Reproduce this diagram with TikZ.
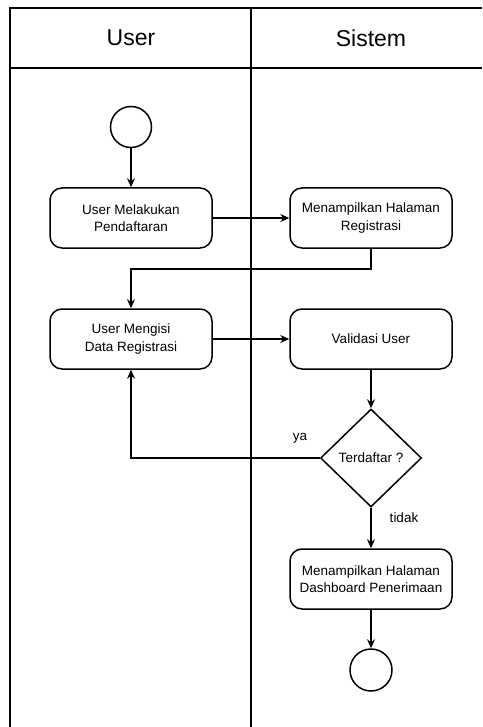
\documentclass[tikz,border=0pt]{standalone}
\usepackage{fontspec}
\setmainfont{Liberation Sans}
\usetikzlibrary{shapes.geometric,arrows.meta}
\begin{document}
\begin{tikzpicture}[x=1pt,y=-1pt,
  lane/.style={line width=1.8pt},
  act/.style={draw,line width=1.5pt,rounded corners=12pt,minimum width=162pt,minimum height=60pt,
    align=center,inner sep=2pt,font=\fontsize{13.5}{17.5}\selectfont},
  circ/.style={draw,circle,line width=1.5pt,minimum size=41pt,inner sep=0pt},
  dec/.style={draw,diamond,line width=1.5pt,minimum width=101pt,minimum height=98pt,inner sep=0pt,
    shape aspect=1,font=\fontsize{13.5}{16}\selectfont},
  lbl/.style={font=\fontsize{13.5}{16}\selectfont,inner sep=0pt},
  head/.style={font=\fontsize{23}{27}\selectfont,inner sep=0pt},
  flow/.style={line width=1.5pt,-{Stealth[length=9pt,width=8pt,inset=3pt]}}
]
\useasboundingbox (0,0) rectangle (482,727);
% swimlanes
\draw[lane] (10,727) -- (10,8) -- (482,8);
\draw[lane] (10,68) -- (482,68);
\draw[lane] (251,8) -- (251,727);
\node[head] (hUser) at (131,38) {User};
\node[head] (hSistem) at (371,38) {Sistem};
% nodes
\node[circ] (start) at (131,127) {};
\node[act] (a1) at (131,218) {User Melakukan\\Pendaftaran};
\node[act] (a2) at (371,218) {Menampilkan Halaman\\Registrasi};
\node[act] (a3) at (131,339) {User Mengisi\\Data Registrasi};
\node[act] (a4) at (371,339) {Validasi User};
\node[dec] (d) at (371,458) {Terdaftar ?};
\node[act] (a5) at (371,579) {Menampilkan Halaman\\Dashboard Penerimaan};
\node[circ,minimum size=42pt] (end) at (371,670) {};
\node[lbl] (ya) at (300,438) {ya};
\node[lbl] (tidak) at (404,518) {tidak};
% connectors
\draw[flow] (start) -- (a1);
\draw[flow] (a1) -- (a2);
\draw[flow] (a2.south) -- ++(0,20) -| (a3.north);
\draw[flow] (a3) -- (a4);
\draw[flow] (a4) -- (d);
\draw[flow] (d.west) -| (a3.south);
\draw[flow] (d) -- (a5);
\draw[flow] (a5) -- (end);
\end{tikzpicture}
\end{document}
